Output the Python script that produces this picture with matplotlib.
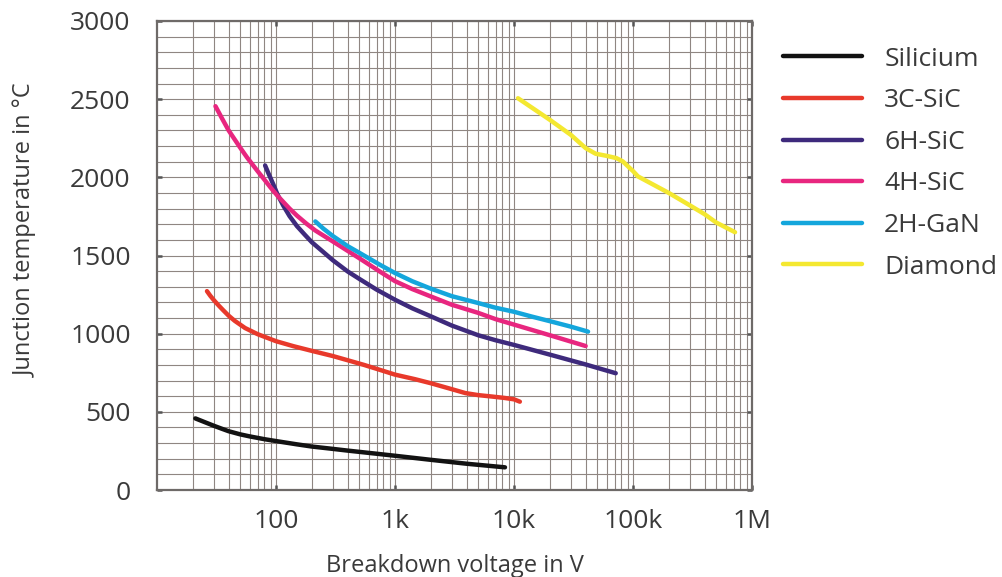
import numpy as np
import matplotlib
matplotlib.use("Agg")
import matplotlib.pyplot as plt
from matplotlib.ticker import LogLocator, MultipleLocator, FixedLocator, FixedFormatter, NullFormatter

plt.rcParams['font.family'] = ['Open Sans', 'DejaVu Sans']

# data (breakdown voltage in V, junction temperature in °C)
si_x = [21, 25, 30, 35, 40, 50, 60, 80, 100, 150, 200, 300, 400, 700, 1000, 2000, 4000, 8400]
si_y = [458, 435, 411, 392, 376, 356, 343, 325, 313, 292, 278, 263, 252, 232, 219, 193, 168, 145]

c3_x = [26.3, 28, 30, 33, 36, 40, 45, 55, 70, 100, 140, 200, 300, 400, 550, 750, 1000,
        1470, 2000, 3000, 3900, 5000, 6500, 8300, 10000, 11200]
c3_y = [1272, 1243, 1215, 1180, 1150, 1115, 1082, 1036, 997, 952, 920, 890, 857, 830, 800, 768, 738,
        709, 683, 645, 620, 607, 598, 589, 580, 565]

h6_x = [81, 85, 90, 95, 103, 115, 130, 150, 175, 200, 250, 300, 400, 500, 700, 1000, 1400,
        2000, 3000, 5000, 7000, 10000, 20000, 40000, 71600]
h6_y = [2076, 2038, 1995, 1954, 1890, 1820, 1752, 1688, 1632, 1585, 1522, 1470, 1398, 1351, 1282, 1217, 1162,
        1111, 1052, 990, 958, 928, 866, 803, 747]

h4_x = [31, 35, 40, 50, 57, 70, 79, 90, 103, 130, 150, 180, 214, 300, 500, 750, 1000, 1400,
        2000, 3000, 5000, 7000, 10000, 20000, 40000]
h4_y = [2455, 2380, 2300, 2190, 2128, 2040, 1990, 1935, 1882, 1800, 1755, 1704, 1660, 1590, 1483, 1396, 1336, 1285,
        1238, 1185, 1133, 1093, 1058, 990, 921]

gan_x = [214, 250, 300, 400, 500, 750, 1000, 1400, 2000, 3000, 5000, 7000, 10000, 14000, 20000, 30000, 41900]
gan_y = [1718, 1672, 1625, 1560, 1518, 1440, 1388, 1335, 1288, 1240, 1196, 1166, 1140, 1110, 1080, 1045, 1013]

dia_x = [10800, 20000, 30000, 40000, 48500, 59500, 72500, 82000, 92000, 100000, 110000,
         200000, 300000, 400000, 500000, 720000]
dia_y = [2506, 2368, 2272, 2187, 2151, 2138, 2123, 2102, 2066, 2040, 2006,
         1900, 1821, 1764, 1711, 1649]

labels = ['Silicium', '3C-SiC', '6H-SiC', '4H-SiC', '2H-GaN', 'Diamond']
colors = ['#121212', '#e8392b', '#3e2a7c', '#e8267f', '#14a6dc', '#f4e830']

xticks = [100, 1000, 10000, 100000, 1000000]
xtick_labels = ['100', '1k', '10k', '100k', '1M']

series = [(si_x, si_y), (c3_x, c3_y), (h6_x, h6_y), (h4_x, h4_y), (gan_x, gan_y), (dia_x, dia_y)]

txt = '#3a3a3a'

fig = plt.figure(figsize=(10.03, 5.77), dpi=100)
ax = fig.add_axes([157/1003, 87/577, 595/1003, 469/577])

for (x, y), lab, col in zip(series, labels, colors):
    ax.plot(x, y, color=col, lw=3.2, label=lab, solid_capstyle='round',
            solid_joinstyle='round', zorder=3)

ax.set_xscale('log')
ax.set_xlim(10, 1e6)
ax.set_ylim(0, 3000)

ax.xaxis.set_major_locator(FixedLocator(xticks))
ax.xaxis.set_major_formatter(FixedFormatter(xtick_labels))
ax.xaxis.set_minor_locator(LogLocator(base=10, subs=np.arange(2, 10)))
ax.xaxis.set_minor_formatter(NullFormatter())
ax.yaxis.set_major_locator(MultipleLocator(500))
ax.yaxis.set_minor_locator(MultipleLocator(100))

ax.grid(which='both', color='#8f8682', lw=0.8, zorder=1)
ax.set_axisbelow(True)

ax.tick_params(which='major', direction='in', length=3.5, width=1.8, color='#555555',
               top=True, right=True, labelsize=19, labelcolor=txt)
ax.tick_params(axis='y', which='major', pad=19)
ax.tick_params(axis='x', which='major', pad=14)
ax.tick_params(which='minor', length=0)

for s in ax.spines.values():
    s.set_color('#6e6a68')
    s.set_linewidth(1.6)

ax.set_xlabel('Breakdown voltage in V', fontsize=17, color=txt, labelpad=14)
ax.set_ylabel('Junction temperature in °C', fontsize=17, color=txt)
ax.yaxis.set_label_coords(-0.2, 0.554)

ax.legend(loc='upper left', bbox_to_anchor=(772/1003, 1 - 36/577), bbox_transform=fig.transFigure,
          frameon=False, fontsize=19, handlelength=3.0, handletextpad=0.85, labelspacing=0.63,
          labelcolor=txt, borderaxespad=0)

fig.savefig('out.png', dpi=100)
